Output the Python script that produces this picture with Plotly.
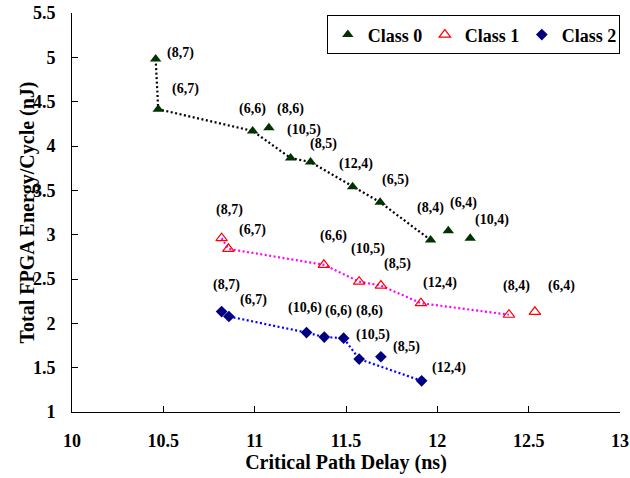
import plotly.graph_objects as go

# ---- data ----
class0_x = [10.458, 10.472, 10.989, 11.078, 11.197, 11.306, 11.536, 11.687, 11.963, 12.06, 12.18]
class0_y = [4.98, 4.415, 4.17, 4.205, 3.864, 3.82, 3.54, 3.365, 2.94, 3.045, 2.96]
class0_labels = ["(8,7)", "(6,7)", "(6,6)", "(8,6)", "(10,5)", "(8,5)", "(12,4)", "(6,5)", "(8,4)", "(6,4)", "(10,4)"]

class1_x = [10.819, 10.856, 11.379, 11.572, 11.691, 11.91, 12.392, 12.534]
class1_y = [2.96, 2.84, 2.66, 2.47, 2.426, 2.227, 2.097, 2.13]
class1_labels = ["(8,7)", "(6,7)", "(6,6)", "(10,5)", "(8,5)", "(12,4)", "(8,4)", "(6,4)"]

class2_x = [10.819, 10.859, 11.284, 11.381, 11.487, 11.572, 11.691, 11.914]
class2_y = [2.133, 2.077, 1.896, 1.845, 1.833, 1.597, 1.623, 1.352]
class2_labels = ["(8,7)", "(6,7)", "(10,6)", "(6,6)", "(8,6)", "(10,5)", "(8,5)", "(12,4)"]

x_ticks = [10, 10.5, 11, 11.5, 12, 12.5, 13]
y_ticks = [1, 1.5, 2, 2.5, 3, 3.5, 4, 4.5, 5, 5.5]

# ---- label placement (pixel shifts, styling only) ----
class0_shift = [(25, 6), (27, 20), (0, 22), (22, 19), (13, 28), (13, 18), (3, 23), (15, 22), (0, 32), (15, 28), (22, 18)]
class1_shift = [(8, 28), (24, 19), (10, 29), (9, 33), (17, 22), (19, 20), (8, 29), (27, 26)]
class2_shift = [(5, 27), (25, 17), (-2, 25), (14, 26), (26, 27), (14, 24), (26, 10), (27, 13)]


def pareto(xs, ys):
    order = sorted(range(len(xs)), key=lambda i: xs[i])
    fx, fy, best = [], [], float("inf")
    for i in order:
        if ys[i] < best:
            fx.append(xs[i]); fy.append(ys[i]); best = ys[i]
    return fx, fy


FONT = "Liberation Serif, Times New Roman, serif"
series = [
    ("Class 0", class0_x, class0_y, class0_labels, class0_shift,
     dict(symbol="triangle-up", size=10, color="#003300"), "black"),
    ("Class 1", class1_x, class1_y, class1_labels, class1_shift,
     dict(symbol="triangle-up-open", size=10, color="#FF0000", line=dict(width=1.2, color="#FF0000")), "#FF00FF"),
    ("Class 2", class2_x, class2_y, class2_labels, class2_shift,
     dict(symbol="diamond", size=9, color="#000080"), "#0000FF"),
]

fig = go.Figure()
annotations = []
for name, xs, ys, labs, shifts, mk, lc in series:
    fx, fy = pareto(xs, ys)
    fig.add_trace(go.Scatter(x=fx, y=fy, mode="lines", showlegend=False,
                             line=dict(color=lc, width=2.2, dash="2px,2.5px"), hoverinfo="skip"))
for name, xs, ys, labs, shifts, mk, lc in series:
    fig.add_trace(go.Scatter(x=xs, y=ys, mode="markers", name=name, marker=mk))
    for x, y, t, (dx, dy) in zip(xs, ys, labs, shifts):
        annotations.append(dict(x=x, y=y, xref="x", yref="y", text=t, showarrow=False,
                                xshift=dx, yshift=dy,
                                font=dict(family=FONT, size=14, color="black", weight="bold")))

annotations.append(dict(text="Total FPGA Energy/Cycle (nJ)", xref="paper", yref="paper",
                        x=-0.0803, y=0.5, textangle=-90, showarrow=False,
                        xanchor="center", yanchor="middle",
                        font=dict(family=FONT, size=20, color="black", weight="bold")))

fig.update_layout(
    width=630, height=478,
    margin=dict(l=72, r=10, t=13, b=66, autoexpand=False),
    paper_bgcolor="white", plot_bgcolor="white",
    font=dict(family=FONT, size=18, color="black", weight="bold"),
    showlegend=True,
    legend=dict(orientation="h", x=0.465, y=0.994, xanchor="left", yanchor="top",
                bordercolor="black", borderwidth=1, bgcolor="white",
                font=dict(family=FONT, size=18, color="black", weight="bold"),
                itemwidth=30, tracegroupgap=0, entrywidth=52, entrywidthmode="pixels"),
    annotations=annotations,
)
fig.update_xaxes(range=[10, 13], tickvals=x_ticks, ticktext=[f"{v:g}" for v in x_ticks],
                 showgrid=False, zeroline=False, showline=True, linecolor="black", linewidth=1,
                 ticks="inside", ticklen=6, tickcolor="black", ticklabelstandoff=12,
                 title=dict(text="Critical Path Delay (ns)", font=dict(size=20), standoff=4))
fig.update_yaxes(range=[1, 5.5], tickvals=y_ticks, ticktext=[f"{v:g}" for v in y_ticks],
                 showgrid=False, zeroline=False, showline=True, linecolor="black", linewidth=1,
                 ticks="inside", ticklen=6, tickcolor="black", ticklabelstandoff=12)

fig.write_html("out.html",
               config={"displayModeBar": False},
               post_script="document.body.style.margin='0';"
                           "document.documentElement.style.overflow='hidden';")
